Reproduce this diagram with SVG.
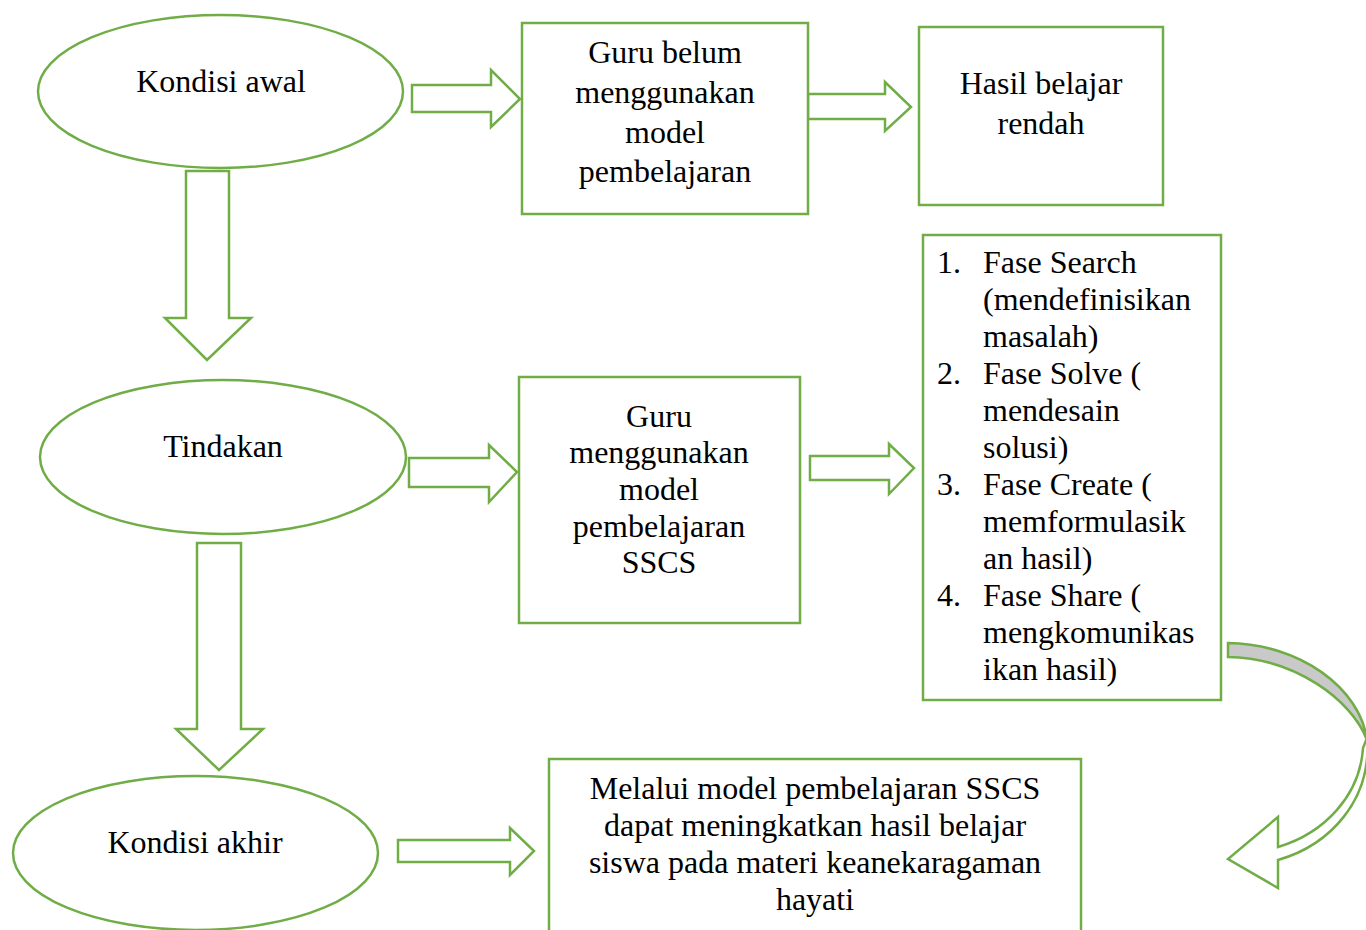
<svg xmlns="http://www.w3.org/2000/svg" width="1366" height="930" viewBox="0 0 1366 930">
<style>
.sh{fill:#fff;stroke:#70AD47;stroke-width:2.5;stroke-linejoin:miter}
.t{font-family:"Liberation Serif","Times New Roman",serif;font-size:32px;fill:#000}
.c{text-anchor:middle}
</style>
<rect x="0" y="0" width="1366" height="930" fill="#fff"/>
<g id="connectors">
<polygon class="sh" points="186,171 229,171 229,318 251,318 207,360 165,318 186,318"/>
<polygon class="sh" points="197,543 241,543 241,729 263,729 219,770 176,729 197,729"/>
<polygon class="sh" points="412,85 491,85 491,70 520,99 491,127 491,112 412,112"/>
<polygon class="sh" points="808,94 885,94 885,82 911,107 885,131 885,119 808,119"/>
<polygon class="sh" points="409,458 489,458 489,445 517,472 489,502 489,487 409,487"/>
<polygon class="sh" points="810,456 889,456 889,444 914,468 889,494 889,480 810,480"/>
<polygon class="sh" points="398,840 510,840 510,828 534,851 510,875 510,862 398,862"/>
<path d="M1228 643 C1300 644 1360 688 1367 740 C1352 700 1295 658 1228 657 Z" fill="#C9C9C9" stroke="#70AD47" stroke-width="2.5"/>
<path class="sh" d="M1367 738 C1372 800 1330 845 1278 860 L1278 888 L1228 859 L1278 817 L1278 847 C1325 833 1360 795 1363 748 Z"/>
</g>
<g id="kondisi-awal">
<ellipse class="sh" cx="220.5" cy="91.5" rx="182.5" ry="76.5"/>
<text class="t c" x="221" y="92">Kondisi awal</text>
</g>
<g id="tindakan">
<ellipse class="sh" cx="223" cy="457" rx="183" ry="77"/>
<text class="t c" x="223" y="457">Tindakan</text>
</g>
<g id="kondisi-akhir">
<ellipse class="sh" cx="195.5" cy="853" rx="182.5" ry="77"/>
<text class="t c" x="195" y="853">Kondisi akhir</text>
</g>
<g id="guru-belum">
<rect class="sh" x="522" y="23" width="286" height="191"/>
<text class="t c" x="665" y="63">Guru belum</text>
<text class="t c" x="665" y="103">menggunakan</text>
<text class="t c" x="665" y="143">model</text>
<text class="t c" x="665" y="182">pembelajaran</text>
</g>
<g id="hasil-rendah">
<rect class="sh" x="919" y="27" width="244" height="178"/>
<text class="t c" x="1041" y="94">Hasil belajar</text>
<text class="t c" x="1041" y="134">rendah</text>
</g>
<g id="guru-sscs">
<rect class="sh" x="519" y="377" width="281" height="246"/>
<text class="t c" x="659" y="427">Guru</text>
<text class="t c" x="659" y="463">menggunakan</text>
<text class="t c" x="659" y="500">model</text>
<text class="t c" x="659" y="537">pembelajaran</text>
<text class="t c" x="659" y="573">SSCS</text>
</g>
<g id="fase-list">
<rect class="sh" x="923" y="235" width="298" height="465"/>
<text class="t" x="937" y="273">1.</text>
<text class="t" x="983" y="273">Fase Search</text>
<text class="t" x="983" y="310">(mendefinisikan</text>
<text class="t" x="983" y="347">masalah)</text>
<text class="t" x="937" y="384">2.</text>
<text class="t" x="983" y="384">Fase Solve (</text>
<text class="t" x="983" y="421">mendesain</text>
<text class="t" x="983" y="458">solusi)</text>
<text class="t" x="937" y="495">3.</text>
<text class="t" x="983" y="495">Fase Create (</text>
<text class="t" x="983" y="532">memformulasik</text>
<text class="t" x="983" y="569">an hasil)</text>
<text class="t" x="937" y="606">4.</text>
<text class="t" x="983" y="606">Fase Share (</text>
<text class="t" x="983" y="643">mengkomunikas</text>
<text class="t" x="983" y="680">ikan hasil)</text>
</g>
<g id="kesimpulan">
<rect class="sh" x="549" y="759" width="532" height="185"/>
<text class="t c" x="815" y="799">Melalui model pembelajaran SSCS</text>
<text class="t c" x="815" y="836">dapat meningkatkan hasil belajar</text>
<text class="t c" x="815" y="873">siswa pada materi keanekaragaman</text>
<text class="t c" x="815" y="910">hayati</text>
</g>
</svg>
